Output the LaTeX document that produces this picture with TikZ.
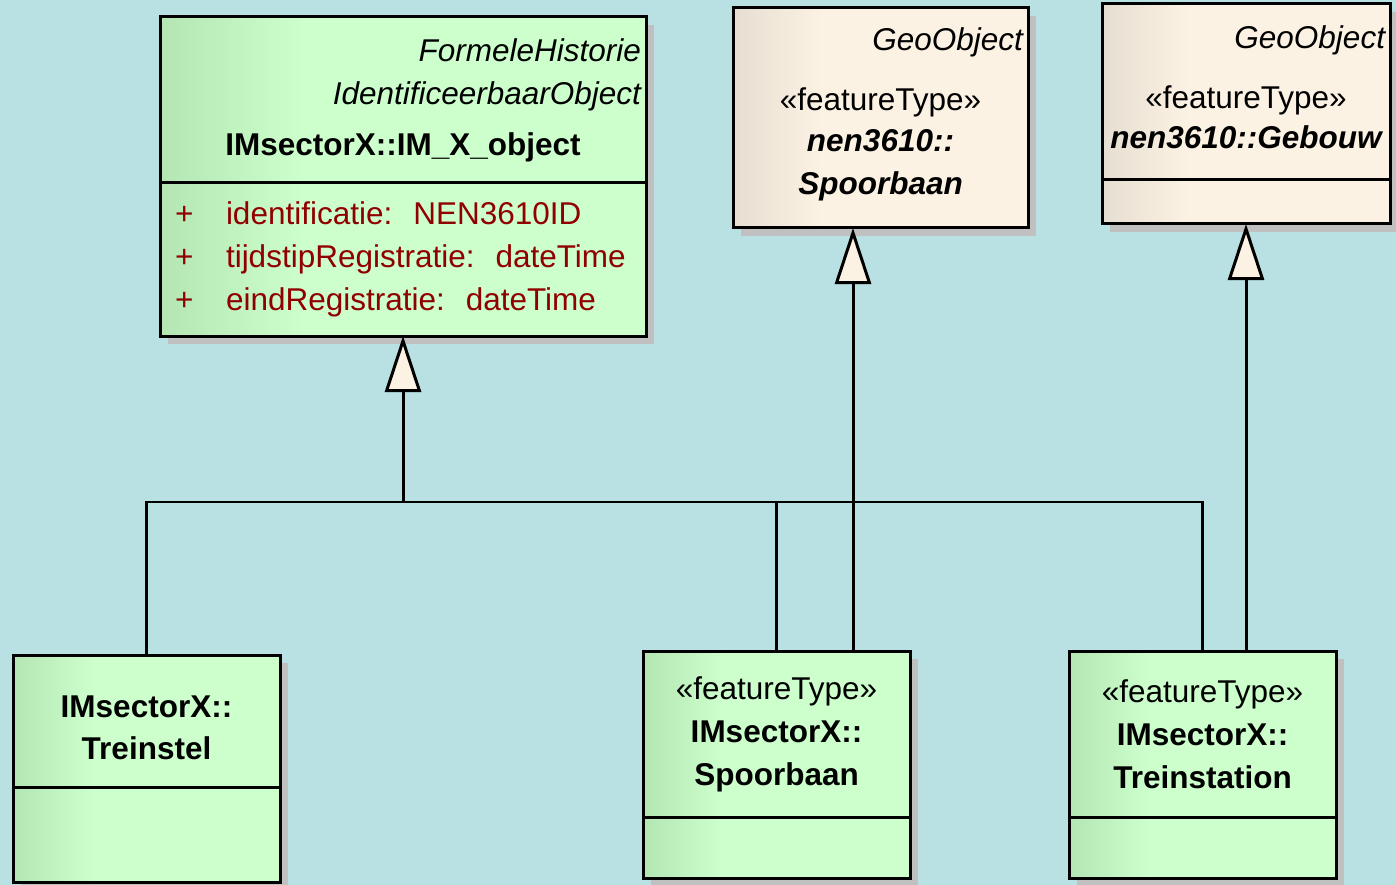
\documentclass[tikz,border=0pt]{standalone}
\usepackage{fontspec}
\setmainfont{Liberation Sans}
\usetikzlibrary{positioning,shadows,arrows.meta}
\definecolor{diagbg}{RGB}{185,224,227}
\definecolor{greenlight}{RGB}{204,255,204}
\definecolor{greendark}{RGB}{180,230,180}
\definecolor{beigelight}{RGB}{251,242,228}
\definecolor{beigedark}{RGB}{230,222,208}
\definecolor{attrred}{RGB}{145,0,0}
\definecolor{shadowgray}{RGB}{192,192,192}
\pgfdeclarehorizontalshading{greenfade}{100bp}{color(0bp)=(greendark); color(25bp)=(greendark); color(40bp)=(greenlight); color(100bp)=(greenlight)}
\pgfdeclarehorizontalshading{beigefade}{100bp}{color(0bp)=(beigedark); color(25bp)=(beigedark); color(40bp)=(beigelight); color(100bp)=(beigelight)}
\begin{document}
\begin{tikzpicture}[x=1pt, y=-1pt, node distance=0pt, font=\fontsize{31.5}{43}\selectfont]
    \tikzstyle{box}=[rectangle,draw,line width=3pt,inner xsep=5pt,inner ysep=0pt,outer sep=0pt,drop shadow={shadow xshift=8pt,shadow yshift=-8pt,fill=shadowgray,opacity=1}]
    \tikzstyle{feature}=[box,shade,shading=greenfade]
    \tikzstyle{geo}=[box,shade,shading=beigefade]
    \tikzstyle{gen}=[line width=3pt,-{Triangle[length=56pt,width=36pt,fill=beigelight]}]
    \tikzstyle{link}=[line width=2.6pt]
    \useasboundingbox[fill=diagbg] (0,0) rectangle (1396,885);
    \node[feature,anchor=north west,minimum width=486pt,minimum height=166pt,text width=476pt] (objhead) at (160,17) {{\raggedleft\itshape FormeleHistorie\\IdentificeerbaarObject\par}\vspace{8pt}{\centering\bfseries IMsectorX::IM\_X\_object\par}};
    \node[feature,below=of objhead,minimum width=486pt,minimum height=153pt,text width=456pt,inner xsep=15pt,align=left,text=attrred] (objattr) {\makebox[51pt][l]{+}identificatie:~~NEN3610ID\\\makebox[51pt][l]{+}tijdstipRegistratie:~~dateTime\\\makebox[51pt][l]{+}eindRegistratie:~~dateTime};
    \node[geo,anchor=north west,minimum width=295pt,minimum height=220pt,text width=285pt] (nenspoor) at (733,8) {{\raggedleft\itshape GeoObject\par}\vspace{17pt}{\centering «featureType»\\[-2pt]\bfseries\itshape nen3610::\\Spoorbaan\rule[-14pt]{0pt}{14pt}\par}};
    \node[geo,anchor=north west,minimum width=288pt,minimum height=176pt,text width=278pt] (gebouwhead) at (1102,4) {{\raggedleft\itshape GeoObject\par}\vspace{17pt}{\centering «featureType»\\[-3pt]\bfseries\itshape nen3610::Gebouw\rule[-9pt]{0pt}{9pt}\par}};
    \node[geo,below=of gebouwhead,minimum width=288pt,minimum height=44pt] (gebouwattr) {};
    \node[feature,anchor=north west,minimum width=267pt,minimum height=132pt,text width=257pt,align=center] (treinstelhead) at (13,655) {\rule{0pt}{36pt}\bfseries IMsectorX::\\[-1pt]Treinstel};
    \node[feature,below=of treinstelhead,minimum width=267pt,minimum height=95pt] (treinstelattr) {};
    \node[feature,anchor=north west,minimum width=267pt,minimum height=166pt,text width=257pt,align=center] (spoorhead) at (643,651) {«featureType»\\\textbf{IMsectorX::}\\\textbf{Spoorbaan}};
    \node[feature,below=of spoorhead,minimum width=267pt,minimum height=61pt] (spoorattr) {};
    \node[feature,anchor=north west,minimum width=267pt,minimum height=166pt,text width=257pt,align=center] (stationhead) at (1069,651) {«featureType»\\\textbf{IMsectorX::}\\\textbf{Treinstation}};
    \node[feature,below=of stationhead,minimum width=267pt,minimum height=61pt] (stationattr) {};
    \coordinate (joint) at (403,502);
    \draw[gen] (joint) -- (objattr);
    \draw[link] (treinstelhead.north) |- (stationhead.north |- joint) -- (stationhead.north);
    \draw[link] (spoorhead.north) -- (spoorhead.north |- joint);
    \draw[gen] ([xshift=76.5pt]spoorhead.north) -- ([xshift=-27.5pt]nenspoor.south);
    \draw[gen] ([xshift=43.5pt]stationhead.north) -- (gebouwattr.south);
\end{tikzpicture}
\end{document}
